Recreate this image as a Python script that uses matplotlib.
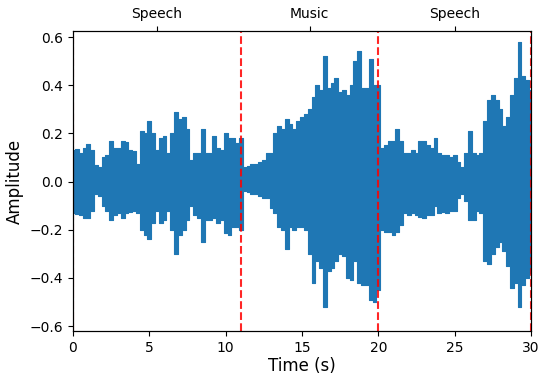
import numpy as np
import matplotlib
matplotlib.use("Agg")
from matplotlib import pyplot as plt

# envelope of the waveform, read every 0.25 s
t = np.arange(0, 30.01, 0.25)
upper = [0.13, 0.135, 0.12, 0.14, 0.155, 0.13, 0.07, 0.06, 0.10, 0.11,
         0.17, 0.14, 0.14, 0.17, 0.165, 0.13, 0.125, 0.075, 0.21, 0.20,
         0.25, 0.20, 0.13, 0.18, 0.19, 0.12, 0.20, 0.29, 0.26, 0.27,
         0.22, 0.09, 0.12, 0.12, 0.22, 0.12, 0.12, 0.19, 0.14, 0.13,
         0.20, 0.18, 0.18, 0.16, 0.18, 0.06, 0.065, 0.075, 0.075, 0.08,
         0.09, 0.12, 0.12, 0.20, 0.23, 0.22, 0.26, 0.24, 0.22, 0.25,
         0.27, 0.28, 0.30, 0.35, 0.40, 0.38, 0.52, 0.39, 0.41, 0.43,
         0.37, 0.38, 0.36, 0.40, 0.50, 0.54, 0.39, 0.39, 0.51, 0.40,
         0.40, 0.14, 0.15, 0.17, 0.17, 0.22, 0.17, 0.12, 0.12, 0.13,
         0.12, 0.17, 0.17, 0.15, 0.14, 0.18, 0.12, 0.11, 0.11, 0.10,
         0.11, 0.08, 0.06, 0.12, 0.21, 0.12, 0.11, 0.12, 0.25, 0.34,
         0.36, 0.34, 0.30, 0.23, 0.27, 0.36, 0.43, 0.58, 0.44, 0.42,
         0.38]
lower = [-0.13, -0.135, -0.14, -0.15, -0.15, -0.12, -0.05, -0.06, -0.10, -0.12,
         -0.16, -0.14, -0.13, -0.15, -0.13, -0.125, -0.12, -0.13, -0.20, -0.22,
         -0.24, -0.17, -0.12, -0.17, -0.16, -0.12, -0.20, -0.30, -0.22, -0.20,
         -0.16, -0.10, -0.14, -0.15, -0.25, -0.16, -0.16, -0.15, -0.17, -0.16,
         -0.215, -0.22, -0.19, -0.19, -0.20, -0.04, -0.045, -0.05, -0.05, -0.06,
         -0.07, -0.07, -0.11, -0.13, -0.19, -0.20, -0.28, -0.19, -0.20, -0.19,
         -0.19, -0.20, -0.30, -0.42, -0.33, -0.36, -0.52, -0.37, -0.36, -0.33,
         -0.30, -0.31, -0.40, -0.41, -0.33, -0.42, -0.43, -0.43, -0.49, -0.50,
         -0.45, -0.20, -0.21, -0.21, -0.22, -0.21, -0.18, -0.13, -0.14, -0.13,
         -0.14, -0.145, -0.15, -0.14, -0.14, -0.10, -0.13, -0.125, -0.13, -0.12,
         -0.12, -0.07, -0.05, -0.08, -0.16, -0.16, -0.12, -0.13, -0.33, -0.34,
         -0.30, -0.27, -0.25, -0.29, -0.35, -0.44, -0.42, -0.52, -0.43, -0.40,
         -0.38]

boundaries = [0, 11, 20, 30]
seg_centers = [5.5, 15.5, 25]
seg_labels = ["Speech", "Music", "Speech"]

fig = plt.figure(figsize=(5.39, 3.76), dpi=100)
ax = fig.add_axes([0.1354, 0.1197, 0.8497, 0.7979])

ax.fill_between(t, lower, upper, step="mid", color="#1f77b4", linewidth=0.8)
for b in boundaries:
    ax.axvline(b, color="red", linestyle="--", linewidth=1.5, alpha=0.85)

ax.set_xlim(0, 30)
ax.set_ylim(-0.62, 0.625)
ax.set_yticks([-0.6, -0.4, -0.2, 0.0, 0.2, 0.4, 0.6])
ax.set_xlabel("Time (s)", fontsize=12, labelpad=2)
ax.set_ylabel("Amplitude", fontsize=12)

ax2 = ax.twiny()
ax2.set_xlim(0, 30)
ax2.set_xticks(seg_centers)
ax2.set_xticklabels(seg_labels)

fig.savefig("out.png", dpi=100)
